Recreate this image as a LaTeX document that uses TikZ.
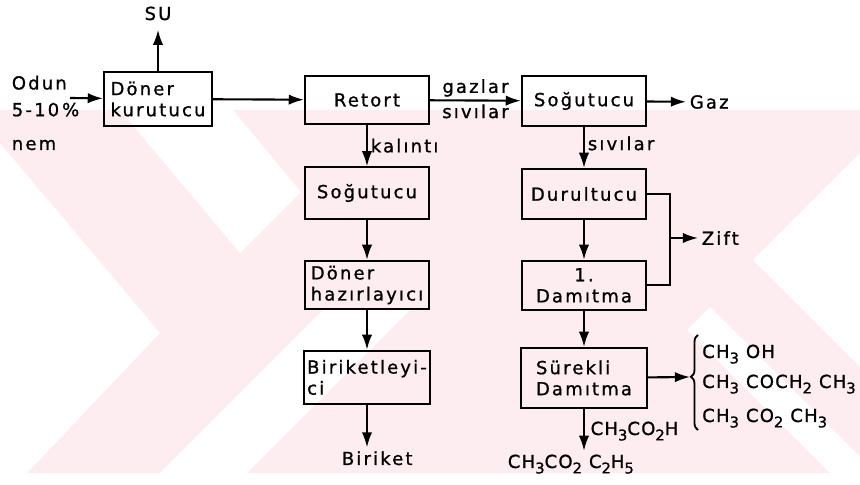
\documentclass[tikz,border=0pt]{standalone}
\usepackage{fontspec}
\setmainfont[LetterSpace=12,FakeBold=1]{DejaVu Sans}
\newfontfamily\chemfont[LetterSpace=7,FakeBold=1]{DejaVu Sans}
\usetikzlibrary{arrows.meta,decorations.pathreplacing}
\tikzset{>={Latex[length=3.8mm,width=2.6mm]}}
\definecolor{wmpink}{RGB}{253,236,240}
\newcommand{\flowfont}{\fontsize{12.8}{15}\selectfont}
\newcommand{\chemsub}[1]{\raisebox{-0.55ex}{\fontsize{10.5}{12}\selectfont #1}}

\begin{document}
\begin{tikzpicture}[font=\flowfont, line width=1.5pt,
  unit/.style={draw, align=left, minimum width=3.1cm, minimum height=1.25cm, inner xsep=2pt},
  lbl/.style={inner sep=2pt},
  chem/.style={inner sep=2pt, font=\flowfont\chemfont}]
  \useasboundingbox (0,0) rectangle (21.5,12.125);
  % watermark
  \fill[wmpink] (0,0.3) rectangle (21.5,9.375);
  \fill[white] (3.0,9.375) -- (5.825,9.375) -- (7.525,7.325) -- (6.0,5.8) -- cycle;
  \fill[white] (0,8.55) -- (4.0,3.8) -- (0.675,0.3) -- (0,0.3) -- cycle;
  \fill[white] (4.0,0.3) -- (6.175,0.3) -- (10.25,4.375) -- (8.075,4.375) -- cycle;
  \fill[white] (18.825,5.625) -- (21.5,8.3) -- (21.5,2.95) -- cycle;
  \fill[white] (17.175,3.875) -- (17.75,4.45) -- (21.5,0.7) -- (21.5,0.3) -- (20.75,0.3) -- cycle;
  % units
  \node[unit, minimum width=2.7cm, minimum height=1.35cm] (kurutucu) at (3.95,9.65) {Döner\\kurutucu};
  \node[unit, minimum height=1.2cm] (retort) at (9.175,9.625) {Retort};
  \node[unit] (sogutucuA) at (14.6,9.6) {Soğutucu};
  \node[unit, minimum height=1.28cm] (sogutucuB) at (9.175,7.3) {Soğutucu};
  \node[unit] (durultucu) at (14.6,7.275) {Durultucu};
  \node[unit, align=center, minimum height=1.23cm] (damitma1) at (14.6,4.99) {1.\\Damıtma};
  \node[unit, minimum height=1.2cm] (hazirlayici) at (9.175,5.0) {Döner\\hazırlayıcı};
  \node[unit, minimum height=1.33cm] (biriketleyici) at (9.175,2.69) {Biriketleyi-\\ci};
  \node[unit, minimum width=3.15cm, minimum height=1.5cm] (surekli) at (14.6,2.675) {Sürekli\\Damıtma};
  % feeds and products
  \node[lbl, anchor=west, align=left] (odun) at (0.2,9.3) {Odun\\[4pt]5-10\,\%\\[9pt]nem};
  \coordinate (giris) at (1.75,9.675);
  \node[lbl, anchor=base, inner ysep=6pt] (su) at (3.95,11.625) {SU};
  \node[lbl, anchor=west] (gaz) at (17.15,9.575) {Gaz};
  \node[lbl, anchor=west] (zift) at (17.45,6.175) {Zift};
  \node[lbl, anchor=base] (biriket) at (9.43,0.5) {Biriket};
  \node[chem, anchor=base west] (asetik) at (14.67,1.25) {CH\chemsub{3}CO\chemsub{2}H};
  \node[chem, anchor=base west] (ester) at (12.6,0.425) {CH\chemsub{3}CO\chemsub{2} C\chemsub{2}H\chemsub{5}};
  \node[chem, anchor=base west] (metanol) at (17.46,3.175) {CH\chemsub{3} OH};
  \node[chem, anchor=base west] (keton) at (17.46,2.425) {CH\chemsub{3} COCH\chemsub{2} CH\chemsub{3}};
  \node[chem, anchor=base west] (asetat) at (17.46,1.575) {CH\chemsub{3} CO\chemsub{2} CH\chemsub{3}};
  % brace
  \coordinate (bb) at (17.45,1.375);
  \coordinate (bt) at (17.45,3.75);
  \coordinate (btip) at (17.25,2.7);
  \draw[line width=1.3pt, decorate, decoration={brace, amplitude=5pt, aspect=0.56}] (bb) -- (bt);
  % connections
  \draw[->] (giris) -- (kurutucu);
  \draw[->] (kurutucu) -- (su);
  \draw[->] (kurutucu) -- (retort);
  \draw[->] (retort) -- node[lbl, above] {gazlar} node[lbl, below] {sıvılar} (sogutucuA);
  \draw[->] (sogutucuA) -- (gaz);
  \draw[->] (retort) -- node[lbl, right] {kalıntı} (sogutucuB);
  \draw[->] (sogutucuB) -- (hazirlayici);
  \draw[->] (hazirlayici) -- (biriketleyici);
  \draw[->] (biriketleyici) -- (biriketleyici |- biriket.north);
  \draw[->] (sogutucuA) -- node[lbl, right, pos=0.4] {sıvılar} (durultucu);
  \draw[->] (durultucu) -- (damitma1);
  \draw (durultucu.east) -- ++(0.575,0) coordinate (zt) |- (damitma1.east);
  \draw[->] (zt |- zift.west) -- (zift);
  \draw[->] (damitma1) -- (surekli);
  \draw[->] (surekli) -- (btip);
  \draw[->] (surekli) -- (surekli |- ester.north);
\end{tikzpicture}
\end{document}
